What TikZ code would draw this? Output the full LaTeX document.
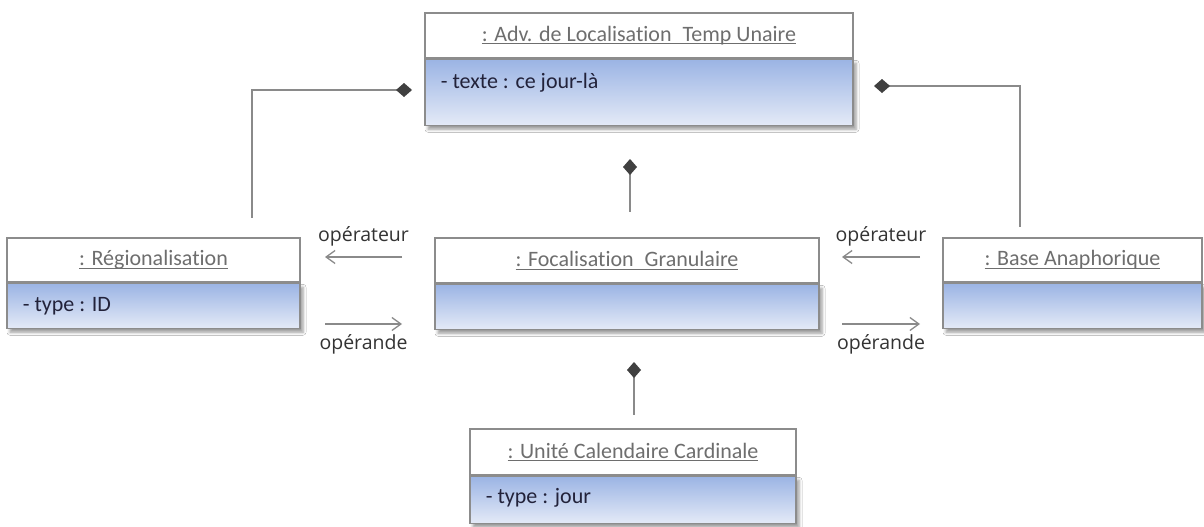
\documentclass[tikz,border=0pt]{standalone}
\usepackage{fontspec}
\setmainfont{Carlito}[Ligatures=NoCommon]
\newfontfamily\lblfont{Open Sans}
\usepackage{tikz}
\usetikzlibrary{arrows.meta, positioning, shadows.blur}
\definecolor{objEdge}{HTML}{8C8C8C}
\definecolor{objTop}{HTML}{9BB4E4}
\definecolor{objBottom}{HTML}{E4EAF7}
\definecolor{objTitle}{HTML}{6E6E6E}
\definecolor{objAttr}{HTML}{22223A}
\definecolor{linkGray}{HTML}{8A8A8A}
\definecolor{tipDark}{HTML}{404040}
\definecolor{lblGray}{HTML}{333333}
\newcommand\objul[1]{\setbox0\hbox{#1}\rlap{\rule[-3pt]{\wd0}{1.1pt}}\box0}

\begin{document}
\begin{tikzpicture}[
  x=1pt, y=-1pt,
  objhead/.style={fill=white, draw=objEdge, line width=1.3pt, minimum height=45pt, inner sep=0pt, font=\fontsize{22}{24}\selectfont, text=objTitle},
  objbody/.style={top color=objTop, bottom color=objBottom, draw=objEdge, line width=1.3pt, minimum height=45pt, inner sep=0pt,
    blur shadow={shadow xshift=3pt, shadow yshift=-4pt, shadow blur radius=3pt, shadow opacity=40}},
  attr/.style={anchor=west, font=\fontsize{22}{24}\selectfont, text=objAttr},
  comp/.style={draw=linkGray, line width=1.4pt, {Diamond[length=16pt, width=14pt, color=tipDark]}-},
  nav/.style={draw=linkGray, line width=1.3pt, -{Straight Barb[length=9pt, width=13pt]}},
  lbl/.style={font=\lblfont\fontsize{19.5}{21}\selectfont, text=lblGray},
]
  \path[fill=white] (0,0) rectangle (1204,527);

  % Top object
  \node[objhead, minimum width=428pt] (adv) at (639, 35.5) {\objul{: Adv. de Localisation\enspace Temp Unaire}};
  \node[objbody, minimum width=428pt, minimum height=66pt, below=0pt of adv] (adv-body) {};
  \node[attr] (adv-attr) at ([shift={(13,24)}]adv-body.north west) {- texte : ce jour-là};

  % Middle row
  \node[objhead, minimum width=293pt, minimum height=44pt] (reg) at (153.5, 260) {\objul{: Régionalisation}};
  \node[objbody, minimum width=293pt, below=0pt of reg] (reg-body) {};
  \node[attr] (reg-attr) at ([shift={(13,24)}]reg-body.north west) {- type : ID};

  \node[objhead, minimum width=384pt] (foc) at (627, 260.5) {\objul{: Focalisation\enspace Granulaire}};
  \node[objbody, minimum width=384pt, below=0pt of foc] (foc-body) {};

  \node[objhead, minimum width=259pt, minimum height=44pt] (base) at (1072.5, 260) {\objul{: Base Anaphorique}};
  \node[objbody, minimum width=259pt, below=0pt of base] (base-body) {};

  % Bottom object
  \node[objhead, minimum width=326pt, minimum height=46pt] (unite) at (633, 452) {\objul{: Unité Calendaire Cardinale}};
  \node[objbody, minimum width=326pt, minimum height=47pt, below=0pt of unite] (unite-body) {};
  \node[attr] (unite-attr) at ([shift={(13,22)}]unite-body.north west) {- type : jour};

  % Compositions
  \coordinate (advL) at (412, 90);
  \coordinate (regT) at (252, 218);
  \coordinate (advR) at (874, 86);
  \coordinate (baseT) at (1020, 227);
  \coordinate (advB) at (630, 159);
  \coordinate (focT) at (630, 212);
  \coordinate (focB) at (634, 362);
  \coordinate (uniteT) at (634, 415);
  \draw[comp] (advL) -| (regT);
  \draw[comp] (advR) -| (baseT);
  \draw[comp] (advB) -- (focT);
  \draw[comp] (focB) -- (uniteT);

  % Roles
  \coordinate (opL1) at (402, 257);
  \coordinate (opL2) at (325, 257);
  \coordinate (ndL1) at (325, 324);
  \coordinate (ndL2) at (402, 324);
  \coordinate (opR1) at (920, 257);
  \coordinate (opR2) at (842, 257);
  \coordinate (ndR1) at (842, 324);
  \coordinate (ndR2) at (920, 324);
  \draw[nav] (opL1) -- (opL2) node[lbl, midway, yshift=21pt] (opL) {opérateur};
  \draw[nav] (ndL1) -- (ndL2) node[lbl, midway, yshift=-20pt] (ndL) {opérande};
  \draw[nav] (opR1) -- (opR2) node[lbl, midway, yshift=21pt] (opR) {opérateur};
  \draw[nav] (ndR1) -- (ndR2) node[lbl, midway, yshift=-20pt] (ndR) {opérande};
\end{tikzpicture}
\end{document}
